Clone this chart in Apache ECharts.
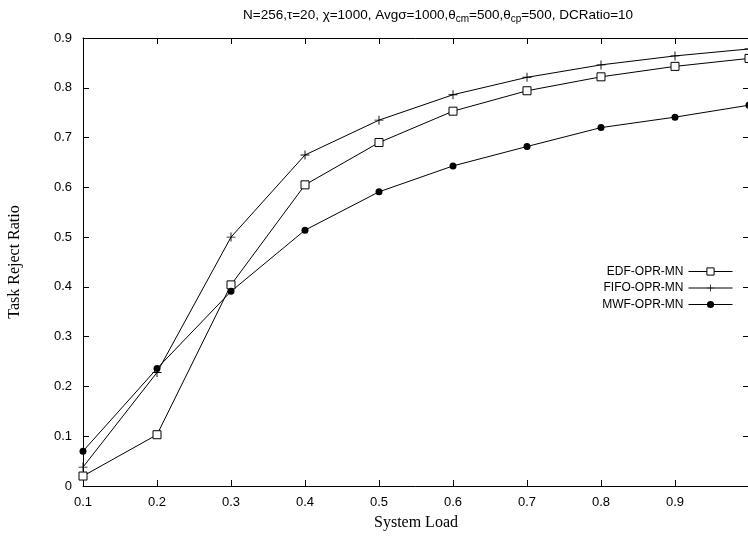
<!DOCTYPE html>
<html>
<head>
<meta charset="utf-8">
<script src="https://cdn.jsdelivr.net/npm/echarts@6/dist/echarts.min.js"></script>
<style>html,body{margin:0;padding:0;background:#fff}#c{width:748px;height:536px}</style>
</head>
<body>
<div id="c"></div>
<script>
var loads = [0.1, 0.2, 0.3, 0.4, 0.5, 0.6, 0.7, 0.8, 0.9, 1.0];
var edf  = [0.020, 0.103, 0.404, 0.605, 0.690, 0.753, 0.794, 0.822, 0.843, 0.859];
var fifo = [0.038, 0.228, 0.500, 0.665, 0.735, 0.786, 0.821, 0.846, 0.864, 0.878];
var mwf  = [0.070, 0.236, 0.391, 0.514, 0.591, 0.643, 0.682, 0.720, 0.741, 0.765];
var seriesNames = ['EDF-OPR-MN', 'FIFO-OPR-MN', 'MWF-OPR-MN'];
var xTicks = [0.1, 1.0, 0.1]; // min, max, interval
var yTicks = [0, 0.9, 0.1];

function pairs(ys){ return loads.map(function(x,i){ return [x, ys[i]]; }); }
var plusPath = 'path://M4.5,0H5.5V4.5H10V5.5H5.5V10H4.5V5.5H0V4.5H4.5Z';

var chart = echarts.init(document.getElementById('c'), null, {renderer:'canvas'});
var axisCommon = {
  axisLine:{show:true, onZero:false, lineStyle:{color:'#000', width:1}},
  axisTick:{show:true, inside:true, length:6, lineStyle:{color:'#000', width:1}},
  splitLine:{show:false}
};
function xFmt(v){ return Math.abs(v-1) < 1e-6 ? '' : v.toFixed(1); }
function yFmt(v){ return Math.abs(v) < 1e-6 ? '0' : v.toFixed(1); }

chart.setOption({
  animation:false,
  backgroundColor:'#fff',
  graphic:[{
    type:'text', left:243, top:8,
    style:{
      text:'{a|N=256,τ=20, χ=1000, Avgσ=1000,θ}{s|cm}{a|=500,θ}{s|cp}{a|=500, DCRatio=10}',
      rich:{
        a:{fontFamily:'Liberation Sans, Arial', fontSize:13.5, fill:'#000'},
        s:{fontFamily:'Liberation Sans, Arial', fontSize:10, fill:'#000', padding:[8,0,0,0]}
      }
    }
  }],
  legend:{
    right:10, top:260, orient:'vertical', align:'right',
    itemWidth:44, itemHeight:9, itemGap:3.5,
    lineStyle:{width:1},
    itemStyle:{borderWidth:1},
    textStyle:{fontFamily:'Liberation Sans, Arial', fontSize:12, color:'#000', width:80, align:'right', lineHeight:13},
    data:seriesNames
  },
  grid:{left:83, top:38, width:666, height:448, containLabel:false, outerBoundsMode:'none'},
  xAxis:[
    Object.assign({type:'value', min:xTicks[0], max:xTicks[1], interval:xTicks[2], position:'bottom',
      name:'System Load', nameLocation:'middle', nameGap:29,
      nameTextStyle:{fontFamily:'Liberation Serif, Times New Roman', fontSize:16, color:'#000'},
      axisLabel:{formatter:xFmt, margin:10, color:'#000', fontFamily:'Liberation Sans, Arial', fontSize:13}}, axisCommon),
    Object.assign({type:'value', min:xTicks[0], max:xTicks[1], interval:xTicks[2], position:'top',
      axisLabel:{show:false}}, axisCommon)
  ],
  yAxis:[
    Object.assign({type:'value', min:yTicks[0], max:yTicks[1], interval:yTicks[2], position:'left',
      name:'Task Reject Ratio', nameLocation:'middle', nameGap:60,
      nameTextStyle:{fontFamily:'Liberation Serif, Times New Roman', fontSize:16, color:'#000'},
      axisLabel:{formatter:yFmt, margin:11, color:'#000', fontFamily:'Liberation Sans, Arial', fontSize:13}}, axisCommon),
    Object.assign({type:'value', min:yTicks[0], max:yTicks[1], interval:yTicks[2], position:'right',
      axisLabel:{show:false}}, axisCommon)
  ],
  series:[
    {name:seriesNames[0], type:'line', data:pairs(edf), symbol:'rect', symbolSize:8,
      lineStyle:{color:'#000', width:1}, itemStyle:{color:'#fff', borderColor:'#000', borderWidth:1}, z:3},
    {name:seriesNames[1], type:'line', data:pairs(fifo), symbol:plusPath, symbolSize:9,
      lineStyle:{color:'#000', width:1}, itemStyle:{color:'#000', borderWidth:0}, z:3},
    {name:seriesNames[2], type:'line', data:pairs(mwf), symbol:'circle', symbolSize:7,
      lineStyle:{color:'#000', width:1}, itemStyle:{color:'#000', borderWidth:0}, z:3}
  ]
});
</script>
</body>
</html>
